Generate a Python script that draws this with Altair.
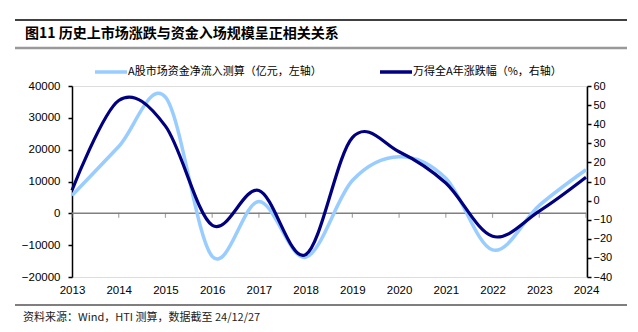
import altair as alt
import pandas as pd

years = [2013, 2014, 2015, 2016, 2017, 2018, 2019, 2020, 2021, 2022, 2023, 2024]
inflow = [5600, 21000, 36500, -13500, 3700, -13800, 10300, 17800, 11000, -11500, 2500, 13700]
wind_a = [5.4, 52.4, 39.0, -12.9, 5.3, -28.3, 33.0, 25.6, 9.2, -18.7, -5.5, 12.2]

left_ticks = [-20000, -10000, 0, 10000, 20000, 30000, 40000]
right_ticks = [-40, -30, -20, -10, 0, 10, 20, 30, 40, 50, 60]

title_text = "图11 历史上市场涨跌与资金入场规模呈正相关关系"
legend_left = "A股市场资金净流入测算（亿元，左轴）"
legend_right = "万得全A年涨跌幅（%，右轴）"
source_text = "资料来源：Wind，HTI 测算，数据截至 24/12/27"

df = pd.DataFrame({"year": years, "inflow": inflow, "wind": wind_a})
zero_df = pd.DataFrame({"v": [0]})
tick_df = pd.DataFrame({"year": years, "v": [0] * len(years)})

LIGHT = "#99CCFF"
DARK = "#000080"
FONT = "Liberation Sans"
CJK = "Noto Sans CJK SC"

xscale = alt.Scale(domain=[2013, 2024], nice=False, zero=False)
lscale = alt.Scale(domain=[-20000, 40000], nice=False, zero=False)
rscale = alt.Scale(domain=[-40, 60], nice=False, zero=False)

xaxis = alt.Axis(values=years, format="d", domain=False, ticks=False, grid=False,
                 labelFont=FONT, labelFontSize=11.5, labelColor="#000",
                 labelPadding=7, labelFlush=False, labelBound=False, labelOverlap=False,
                 labelAlign="center", title=None)

base = alt.Chart(df)

light = base.mark_line(color=LIGHT, strokeWidth=3.5, interpolate="cardinal").encode(
    x=alt.X("year:Q", scale=xscale, axis=xaxis),
    y=alt.Y("inflow:Q", scale=lscale,
            axis=alt.Axis(values=left_ticks, format="d", grid=False, domainColor="#000",
                          domainWidth=1.5, tickColor="#000", tickSize=4, tickWidth=1.5,
                          labelFont=FONT, labelFontSize=11.5, labelColor="#000",
                          labelPadding=8, title=None, orient="left")),
)

zero = alt.Chart(zero_df).mark_rule(color="#808080", strokeWidth=1.5).encode(
    y=alt.Y("v:Q", scale=lscale, axis=None),
)

ticks = alt.Chart(tick_df).mark_tick(color="#808080", thickness=1.2, size=5, orient="vertical", yOffset=2).encode(
    x=alt.X("year:Q", scale=xscale, axis=xaxis),
    y=alt.Y("v:Q", scale=lscale, axis=None),
)

dark = base.mark_line(color=DARK, strokeWidth=3.2, interpolate="cardinal").encode(
    x=alt.X("year:Q", scale=xscale, axis=xaxis),
    y=alt.Y("wind:Q", scale=rscale,
            axis=alt.Axis(values=right_ticks, format="d", grid=False, domainColor="#000",
                          domainWidth=1.5, tickColor="#000", tickSize=4, tickWidth=1.5,
                          labelFont=FONT, labelFontSize=11, labelColor="#000",
                          labelPadding=2, title=None, orient="right", offset=1)),
)

# decorations (pixel coordinates relative to plot area)
deco_df = pd.DataFrame({"d": [0]})
def hrule(x1, x2, y, color, w):
    return alt.Chart(deco_df).mark_rule(color=color, strokeWidth=w).encode(
        x=alt.value(x1), x2=alt.value(x2), y=alt.value(y))

def txt(x, y, s, size, weight="normal", font=CJK, color="#000"):
    return alt.Chart(deco_df).mark_text(text=s, align="left", baseline="middle", fontSize=size,
                                        fontWeight=weight, font=font, color=color).encode(
        x=alt.value(x), y=alt.value(y))

top_rule = hrule(-57, 555, -66, "#000", 1.5)
gray_rule = hrule(-57, 555, -38, "#999999", 2.5)
bottom_rule = hrule(-57, 555, 219, "#000", 1.2)
title = txt(-47, -52, title_text, 14, "bold")
leg1_line = hrule(23, 55, -14, LIGHT, 3.5)
leg1_text = txt(56, -14, legend_left, 11)
leg2_line = hrule(308, 340, -14, DARK, 3.5)
leg2_text = txt(341, -14, legend_right, 11)
source = txt(-49, 232, source_text, 11, color="#222")

chart = alt.layer(
    zero, ticks, light, dark,
    top_rule, gray_rule, bottom_rule, title, leg1_line, leg1_text, leg2_line, leg2_text, source,
).resolve_scale(y="independent").properties(
    width=514, height=191,
    padding={"left": 72, "top": 86, "right": 52, "bottom": 55},
    autosize=alt.AutoSizeParams(type="none"),
).configure_view(stroke=None).configure(background="white")

chart.save("out.html", embed_options={"renderer": "svg", "actions": False})
